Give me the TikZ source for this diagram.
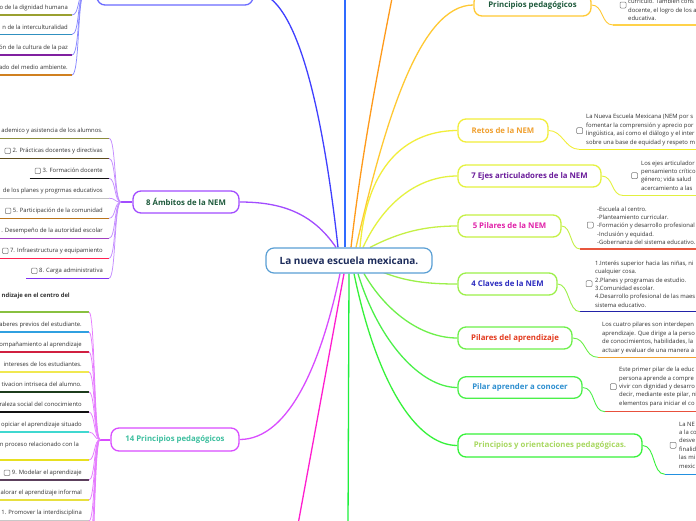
\documentclass[tikz,border=0pt]{standalone}
\usepackage{fontspec}
\setmainfont{Open Sans}
\pgfdeclarelayer{back}
\pgfdeclarelayer{lines}
\pgfsetlayers{back,lines,main}
\definecolor{leaftxt}{HTML}{333333}
\definecolor{cbgray}{HTML}{7A7A7A}
\definecolor{cBorder}{HTML}{5A9FD4}
\definecolor{cText}{HTML}{1C2B5A}
\definecolor{dkgreen}{HTML}{1E5A3C}
\definecolor{tealT}{HTML}{3DBF9F}
\definecolor{retT}{HTML}{F0A030}
\definecolor{ejeT}{HTML}{6A1B9A}
\definecolor{pilT}{HTML}{E020A8}
\definecolor{claT}{HTML}{2B2BBF}
\definecolor{papT}{HTML}{E33A1E}
\definecolor{pacT}{HTML}{2E8FD0}
\definecolor{pyoT}{HTML}{A8D860}
\definecolor{topB}{HTML}{6B6BFF}
\definecolor{topC}{HTML}{4040FF}
\definecolor{blueV}{HTML}{2F6BFF}
\definecolor{orgV}{HTML}{FF9A1A}
\definecolor{ppdB}{HTML}{FFC933}
\definecolor{retB}{HTML}{F2EE3A}
\definecolor{ejeB}{HTML}{E4F23F}
\definecolor{pilB}{HTML}{C5F045}
\definecolor{claB}{HTML}{9CF04A}
\definecolor{papB}{HTML}{6EF04A}
\definecolor{pacB}{HTML}{4CF04A}
\definecolor{pyoB}{HTML}{36F23A}
\definecolor{grnV}{HTML}{1EF03C}
\definecolor{magV}{HTML}{FF1ECF}
\definecolor{p14B}{HTML}{D94CFF}
\definecolor{ambB}{HTML}{A24CFF}
\definecolor{topF}{HTML}{8A8AFF}
\definecolor{ambF}{HTML}{C48CFF}
\definecolor{p14F}{HTML}{E67CFF}
\definecolor{uT1}{HTML}{9AA030}
\definecolor{uT2}{HTML}{3090C0}
\definecolor{uT3}{HTML}{8020A0}
\definecolor{uT4}{HTML}{D08020}
\definecolor{uA1}{HTML}{8C8C3C}
\definecolor{uA2}{HTML}{5C4A1C}
\definecolor{uA3}{HTML}{111111}
\definecolor{uA4}{HTML}{C0C0C0}
\definecolor{uA5}{HTML}{B8741C}
\definecolor{uA6}{HTML}{A040C0}
\definecolor{uA7}{HTML}{FF2050}
\definecolor{uA8}{HTML}{8030F0}
\definecolor{uP1}{HTML}{88C040}
\definecolor{uP2}{HTML}{30A0E0}
\definecolor{uP3}{HTML}{D02040}
\definecolor{uP4}{HTML}{F0E850}
\definecolor{uP5}{HTML}{1C3C1C}
\definecolor{uP6}{HTML}{111111}
\definecolor{uP7}{HTML}{40D8D0}
\definecolor{uP8}{HTML}{E8E020}
\definecolor{uP9}{HTML}{5C405C}
\definecolor{uP10}{HTML}{E8E040}
\definecolor{uP11}{HTML}{C8C8C8}
\definecolor{uR0}{HTML}{FFD24A}
\definecolor{uR1}{HTML}{F0EE20}
\definecolor{uR2}{HTML}{E2F040}
\definecolor{uR3}{HTML}{E8563E}
\definecolor{uR4}{HTML}{2222A8}
\definecolor{uR5}{HTML}{F0A030}
\definecolor{uR6}{HTML}{E8503C}
\definecolor{uR7}{HTML}{2290E0}
\tikzset{
 box/.style={draw=#1, line width=1.3pt, rounded corners=8pt, fill=white, inner sep=0pt, font=\fontsize{7.8}{9}\selectfont\bfseries},
 conn/.style={draw=#1, line width=1.3pt},
 lconn/.style={draw=#1, line width=0.9pt},
 fan/.style={draw=#1, line width=0.75pt},
 stub/.style={draw=#1, line width=2pt},
 ul/.style={draw=#1, line width=1.2pt},
 lt/.style={inner sep=0pt, text height=4.3pt, text depth=1.3pt, font=\fontsize{5.9}{8.4}\selectfont, text=leaftxt},
 rt/.style={inner sep=0pt, align=left, anchor=west, font=\fontsize{5.9}{8.4}\selectfont, text=leaftxt},
 cbx/.style={draw=cbgray, line width=0.5pt, rounded corners=1pt},
 cbn/.style={cbx, minimum size=6pt, inner sep=0pt},
}
\newcommand\chk{\tikz[baseline={(0,1.2pt)}]\draw[cbx] (0,0) rectangle (5.6pt,5.6pt);\hspace{1.8pt}}
\newcommand\LLeaf[7]{%
  \node[lt, anchor=east] (#1) at (#2,#3) {#7};
  \begin{pgfonlayer}{lines}
  \draw[ul=#6] (#1.west |- 0,#4) ++(-5,0) -- (#5,#4) coordinate (#1e);
  \end{pgfonlayer}
}
\begin{document}
\begin{tikzpicture}[x=1pt,y=-1pt]
\useasboundingbox (0,0) rectangle (696,520);
\begin{pgfonlayer}{back}
\fill[white] (0,0) rectangle (696,520);
\end{pgfonlayer}

% ---------- main nodes ----------
\node[box=cBorder, text=cText, font=\fontsize{10}{11}\selectfont\bfseries, line width=1.2pt, minimum width=166pt, minimum height=25pt] (c) at (349,260.5) {La nueva escuela mexicana.};
\node[box=topB, minimum width=156pt, minimum height=26pt] (top) at (175,-8) {};
\node[box=ambB, text=dkgreen, minimum width=106pt, minimum height=22pt] (amb) at (186,202) {8 Ámbitos de la NEM};
\node[box=p14B, text=tealT, minimum width=128pt, minimum height=23pt] (p14) at (175,439.5) {14 Principios pedagógicos};
\node[box=ppdB, text=dkgreen, minimum width=117pt, minimum height=22pt] (ppd) at (532.5,5) {Principios pedagógicos};
\node[box=retB, text=retT, minimum width=90pt, minimum height=23pt] (ret) at (503,130.5) {Retos de la NEM};
\node[box=ejeB, text=ejeT, minimum width=143pt, minimum height=22pt] (eje) at (529.5,176) {7 Ejes articuladores de la NEM};
\node[box=pilB, text=pilT, minimum width=103pt, minimum height=22pt] (pil) at (509.5,226) {5 Pilares de la NEM};
\node[box=claB, text=claT, minimum width=99pt, minimum height=22pt] (cla) at (507.5,284) {4 Claves de la NEM};
\node[box=papB, text=papT, minimum width=114pt, minimum height=22pt] (pap) at (515,338) {Pilares del aprendizaje};
\node[box=pacB, text=pacT, minimum width=124pt, minimum height=21.5pt] (pac) at (520,387.5) {Pilar aprender a conocer};
\node[box=pyoB, text=pyoT, minimum width=184pt, minimum height=23pt] (pyo) at (550,445.5) {Principios y orientaciones pedagógicas.};

\coordinate (tv) at (345,-12);
\coordinate (ov) at (394,-12);
\coordinate (gv) at (348,530);
\coordinate (mv) at (297,530);
\coordinate (jt) at (85,-8);
\coordinate (ja) at (121,202);
\coordinate (jp) at (100,439.5);

% ---------- central connectors ----------
\begin{pgfonlayer}{lines}
\draw[conn=topC] ([xshift=-11pt]c.north) .. controls (325,130) and (300,-8) .. (top.east);
\draw[conn=blueV] ([xshift=-4pt]c.north) -- (tv);
\draw[conn=orgV] ([xshift=2pt]c.north) .. controls (362,150) and (380,60) .. (ov);
\draw[conn=ppdB] ([xshift=7pt]c.north) .. controls (385,120) and (420,5) .. (ppd.west);
\draw[conn=retB] ([xshift=11pt]c.north) .. controls (368,150) and (420,130.5) .. (ret.west);
\draw[conn=ejeB] ([xshift=14pt]c.north) .. controls (385,200) and (420,176) .. (eje.west);
\draw[conn=pilB] ([xshift=21pt]c.north) .. controls (400,232) and (425,226) .. (pil.west);
\draw[conn=claB] ([xshift=30pt,yshift=3pt]c.south) .. controls (405,282) and (430,284) .. (cla.west);
\draw[conn=papB] ([xshift=15pt]c.south) .. controls (385,310) and (420,338) .. (pap.west);
\draw[conn=pacB] ([xshift=9pt]c.south) .. controls (378,340) and (420,387.5) .. (pac.west);
\draw[conn=pyoB] ([xshift=5pt]c.south) .. controls (376,380) and (415,445.5) .. (pyo.west);
\draw[conn=grnV] (c.south) -- (gv);
\draw[conn=magV] ([xshift=-5pt]c.south) -- (mv);
\draw[conn=p14B] ([xshift=-9pt]c.south) .. controls (322,360) and (290,439.5) .. (p14.east);
\draw[conn=ambB] ([xshift=-13pt]c.north) .. controls (312,212) and (280,202) .. (amb.east);
\draw[stub=topB] (top.west) -- (jt);
\draw[stub=ambB] (amb.west) -- (ja);
\draw[stub=p14B] (p14.west) -- (jp);
\end{pgfonlayer}

% ---------- top-left leaves ----------
\LLeaf{t1}{68}{8.3}{15}{72}{uT1}{o de la dignidad humana}
\LLeaf{t2}{68}{28.3}{34.5}{72}{uT2}{n de la interculturalidad}
\LLeaf{t3}{68}{48.3}{55}{72}{uT3}{ón de la cultura de la paz}
\LLeaf{t4}{68}{68.3}{75}{72}{uT4}{ado del medio ambiente.}

% ---------- 8 Ambitos leaves ----------
\LLeaf{a1}{103}{131}{138.3}{109}{uA1}{ademico y asistencia de los alumnos.}
\LLeaf{a2}{103}{151}{158.3}{109}{uA2}{\chk 2. Prácticas docentes y directivas}
\LLeaf{a3}{103}{171}{178.3}{109}{uA3}{\chk 3. Formación docente}
\LLeaf{a4}{103}{191}{198.3}{109}{uA4}{de los planes y progrmas educativos}
\LLeaf{a5}{103}{211}{218.3}{109}{uA5}{\chk 5. Participación de la comunidad}
\LLeaf{a6}{103}{231}{238.3}{109}{uA6}{. Desempeño de la autoridad escolar}
\LLeaf{a7}{103}{251}{258.3}{109}{uA7}{\chk 7. Infraestructura y equipamiento}
\LLeaf{a8}{103}{271}{278.3}{109}{uA8}{\chk 8. Carga administrativa}

% ---------- 14 Principios leaves ----------
\node[lt, anchor=east] (p1) at (70,295.5) {\bfseries ndizaje en el centro del};
\begin{pgfonlayer}{lines}
\draw[ul=uP1] (-5,312) -- (89,312) coordinate (p1e);
\end{pgfonlayer}
\LLeaf{p2}{82}{325}{332}{89}{uP2}{aberes previos del estudiante.}
\LLeaf{p3}{82}{345}{352}{89}{uP3}{ompañamiento al aprendizaje}
\LLeaf{p4}{82}{365}{372}{89}{uP4}{intereses de los estudiantes.}
\LLeaf{p5}{82}{385}{392}{89}{uP5}{tivacion intriseca del alumno.}
\LLeaf{p6}{82}{405}{412}{89}{uP6}{raleza social del conocimiento}
\LLeaf{p7}{82}{425}{432}{89}{uP7}{opiciar el aprendizaje situado}
\node[lt, anchor=east] (p8) at (79,445) {n proceso relacionado con la};
\begin{pgfonlayer}{lines}
\draw[ul=uP8] (-5,460) -- (89,460) coordinate (p8e);
\end{pgfonlayer}
\LLeaf{p9}{82}{473}{480}{89}{uP9}{\chk 9. Modelar el aprendizaje}
\LLeaf{p10}{82}{493}{500}{89}{uP10}{alorar el aprendizaje informal}
\LLeaf{p11}{82}{513}{521}{89}{uP11}{1. Promover la interdisciplina}
\coordinate (p12e) at (89,541);
\coordinate (p13e) at (89,561);
\coordinate (p14e) at (89,581);

\begin{pgfonlayer}{lines}
\foreach \e in {t1e,t2e,t3e,t4e}
  \draw[fan=topF] (jt) .. controls +(-8,0) and +(8,0) .. (\e);
\foreach \e in {a1e,a2e,a3e,a4e,a5e,a6e,a7e,a8e}
  \draw[fan=ambF] (ja) .. controls +(-7,0) and +(7,0) .. (\e);
\foreach \e in {p1e,p2e,p3e,p4e,p5e,p6e,p7e,p8e,p9e,p10e,p11e,p12e,p13e,p14e}
  \draw[fan=p14F] (jp) .. controls +(-6,0) and +(6,0) .. (\e);
\end{pgfonlayer}

% ---------- right leaves ----------
\coordinate (ppdu) at (613,25);
\coordinate (retu) at (579,149.3);
\coordinate (ejeu) at (623,195.5);
\coordinate (pilu) at (580,249);
\coordinate (clau) at (580,311.7);
\coordinate (papu) at (598,357.3);
\coordinate (pacu) at (605,411.7);
\coordinate (pyou) at (665,474.3);
\begin{pgfonlayer}{lines}
\draw[ul=uR0] (ppdu) -- (700,25);
\draw[ul=uR1] (retu) -- (700,149.3);
\draw[ul=uR2] (ejeu) -- (700,195.5);
\draw[ul=uR3] (pilu) -- (700,249);
\draw[ul=uR4] (clau) -- (700,311.7);
\draw[ul=uR5] (papu) -- (700,357.3);
\draw[ul=uR6] (pacu) -- (700,411.7);
\draw[ul=uR7] (pyou) -- (700,474.3);
\draw[lconn=ppdB] (ppd.east) .. controls +(12,0) and +(-12,0) .. (ppdu);
\draw[lconn=retB] (ret.east) .. controls +(14,0) and +(-14,0) .. (retu);
\draw[lconn=ejeB] (eje.east) .. controls +(12,0) and +(-12,0) .. (ejeu);
\draw[lconn=pilB] (pil.east) .. controls +(10,0) and +(-10,0) .. (pilu);
\draw[lconn=claB] (cla.east) .. controls +(12,0) and +(-12,0) .. (clau);
\draw[lconn=papB] (pap.east) .. controls +(14,0) and +(-14,0) .. (papu);
\draw[lconn=pacB] (pac.east) .. controls +(13,0) and +(-13,0) .. (pacu);
\draw[lconn=pyoB] (pyo.east) .. controls +(13,0) and +(-13,0) .. (pyou);
\end{pgfonlayer}

\node[cbn] (ppdk) at (623,5) {};
\node[rt] (ppdt) at (628,10) {currículo.  También cons\\docente, el logro de los a\\educativa.};
\node[cbn] (retk) at (579.7,130.7) {};
\node[rt] (rett) at (586,130) {La Nueva Escuela Mexicana (NEM por s\\fomentar la comprensión y aprecio por\\lingüística, así como el diálogo y el inter\\sobre una base de equidad y respeto m};
\node[cbn] (ejek) at (634.5,175.7) {};
\node[rt] (ejet) at (641,175.5) {Los ejes articulador\\pensamiento crítico\\género; vida salud\\acercamiento a las};
\node[cbn] (pilk) at (590.3,225) {};
\node[rt] (pilt) at (597,225.6) {-Escuela al centro.\\-Planteamiento curricular.\\-Formación y desarrollo profesional\\-Inclusión y equidad.\\-Gobernanza del sistema educativo.};
\node[cbn] (clak) at (589,283.7) {};
\node[rt] (clat) at (595,284) {1.Interés superior hacia las niñas, ni\\cualquier cosa.\\2.Planes y programas de estudio.\\3.Comunidad escolar.\\4.Desarrollo profesional de las maes\\sistema educativo.};
\node[rt] (papt) at (602,338) {Los cuatro pilares son interdepen\\aprendizaje. Que dirige a la perso\\de conocimientos, habilidades, la\\actuar y evaluar de una manera a};
\node[cbn] (pack) at (613.3,386.7) {};
\node[rt] (pact) at (619,387) {Este primer pilar de la educ\\persona aprende a compre\\vivir con dignidad y desarro\\decir, mediante este pilar, ni\\elementos para iniciar el co};
\node[cbn] (pyok) at (673,445.3) {};
\node[rt] (pyot) at (679,445) {La NE\\a la co\\desve\\finalid\\las mi\\mexic};
\end{tikzpicture}
\end{document}
